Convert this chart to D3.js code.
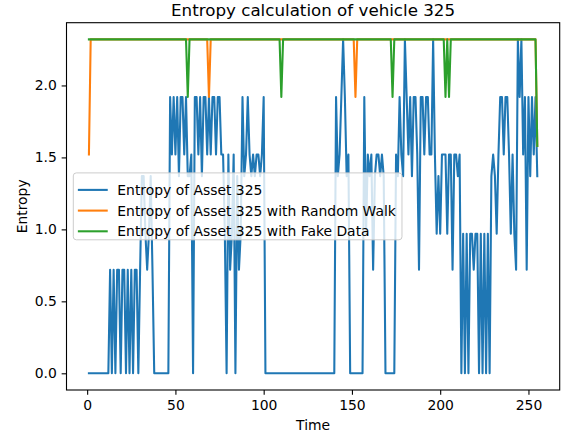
<!DOCTYPE html>
<html>
<head>
<meta charset="utf-8">
<script src="https://cdn.jsdelivr.net/npm/d3@7/dist/d3.min.js"></script>
<style>
  html, body { margin: 0; padding: 0; background: #ffffff; }
  svg { display: block; font-family: "DejaVu Sans", sans-serif; }
</style>
</head>
<body>
<svg id="chart" width="566" height="436"></svg>
<script>
// ---------------- data ----------------
const chartTitle = "Entropy calculation of vehicle 325";
const xLabel = "Time";
const yLabel = "Entropy";
const seriesNames = [
  "Entropy of Asset 325",
  "Entropy of Asset 325 with Random Walk",
  "Entropy of Asset 325 with Fake Data"
];
const seriesColors = ["#1f77b4", "#ff7f0e", "#2ca02c"];
const xTicks = [0, 50, 100, 150, 200, 250];
const yTicks = [0.0, 0.5, 1.0, 1.5, 2.0];
const timeStart = 1; // values below are for Time = 1, 2, 3, ...

const blueEntropy = [
  0,0,0,0,0,0,0,0,0,0,
  0,0,0.72,0,0.72,0,0.72,0.72,0,0.72,
  0.72,0,0.72,0,0.72,0,0.72,0.72,0,0.72,
  1.37,1.37,0.97,0.72,0.97,1.37,0.72,0,0,0,
  0,0,0,0,0,0,1.92,1.52,1.92,1.52,
  1.92,1.37,1.92,1.92,1.52,1.92,1.37,1.37,1.52,0,
  1.92,1.92,1.52,1.92,1.37,1.92,1.92,1.52,1.92,1.52,
  1.92,1.92,1.52,1.92,1.92,1.52,1.52,0.97,0,1.52,
  0.72,0.97,1.52,0,1.37,0.72,0.97,1.92,1.37,1.52,
  1.92,1.52,1.37,1.52,1.37,1.52,1.52,1.37,1.52,1.92,
  0,0,0,0,0,0,0,0,0,0,
  0,0,0,0,0,0,0,0,0,0,
  0,0,0,0,0,0,0,0,0,0,
  0,0,0,0,0,0,0,0,0,0,
  1.92,1.37,1.52,1.92,2.32,1.92,1.37,1.52,0,0,
  0,0,0,0,0,0,1.92,0.97,1.52,1.37,
  1.52,0.72,1.37,1.52,1.52,1.37,1.52,1.37,0,0,
  0,0,0,0,1.52,1.37,1.92,1.52,1.37,2.32,
  1.92,1.52,1.92,1.37,1.92,1.92,1.52,0.72,1.92,1.92,
  1.52,1.92,1.92,1.52,1.52,2.32,1.52,0.97,1.37,0.97,
  1.52,1.52,1.52,0.97,1.52,1.52,0.72,1.52,1.52,1.37,
  1.52,0,0.97,0,0.97,0,0.97,0.97,0.72,0.97,
  0.97,0,0.97,0,0.97,0,0.97,0,1.37,1.52,
  1.37,0.97,1.52,1.92,1.92,1.52,1.92,1.92,1.52,0.97,
  1.52,0.97,0.72,2.32,1.92,2.32,1.52,1.92,0.72,1.92,
  1.37,1.92,1.52,1.92,1.37
];

const orangeEntropy = [
  1.52,2.32,2.32,2.32,2.32,2.32,2.32,2.32,2.32,2.32,
  2.32,2.32,2.32,2.32,2.32,2.32,2.32,2.32,2.32,2.32,
  2.32,2.32,2.32,2.32,2.32,2.32,2.32,2.32,2.32,2.32,
  2.32,2.32,2.32,2.32,2.32,2.32,2.32,2.32,2.32,2.32,
  2.32,2.32,2.32,2.32,2.32,2.32,2.32,2.32,2.32,2.32,
  2.32,2.32,2.32,2.32,2.32,2.32,2.32,2.32,2.32,2.32,
  2.32,2.32,2.32,2.32,2.32,2.32,2.32,2.32,1.92,2.32,
  2.32,2.32,2.32,2.32,2.32,2.32,2.32,2.32,2.32,2.32,
  2.32,2.32,2.32,2.32,2.32,2.32,2.32,2.32,2.32,2.32,
  2.32,2.32,2.32,2.32,2.32,2.32,2.32,2.32,2.32,2.32,
  2.32,2.32,2.32,2.32,2.32,2.32,2.32,2.32,2.32,2.32,
  2.32,2.32,2.32,2.32,2.32,2.32,2.32,2.32,2.32,2.32,
  2.32,2.32,2.32,2.32,2.32,2.32,2.32,2.32,2.32,2.32,
  2.32,2.32,2.32,2.32,2.32,2.32,2.32,2.32,2.32,2.32,
  2.32,2.32,2.32,2.32,2.32,2.32,2.32,2.32,2.32,2.32,
  2.32,1.92,2.32,2.32,2.32,2.32,2.32,2.32,2.32,2.32,
  2.32,2.32,2.32,2.32,2.32,2.32,2.32,2.32,2.32,2.32,
  2.32,2.32,2.32,2.32,2.32,2.32,2.32,2.32,2.32,2.32,
  2.32,2.32,2.32,2.32,2.32,2.32,2.32,2.32,2.32,2.32,
  2.32,2.32,2.32,2.32,2.32,2.32,2.32,2.32,2.32,2.32,
  2.32,2.32,2.32,2.32,2.32,2.32,2.32,2.32,2.32,2.32,
  2.32,2.32,2.32,2.32,2.32,2.32,2.32,2.32,2.32,2.32,
  2.32,2.32,2.32,2.32,2.32,2.32,2.32,2.32,2.32,2.32,
  2.32,2.32,2.32,2.32,2.32,2.32,2.32,2.32,2.32,2.32,
  2.32,2.32,2.32,2.32,2.32,2.32,2.32,2.32,2.32,2.32,
  2.32,2.32,2.32,2.32,1.58
];

const greenEntropy = [
  2.32,2.32,2.32,2.32,2.32,2.32,2.32,2.32,2.32,2.32,
  2.32,2.32,2.32,2.32,2.32,2.32,2.32,2.32,2.32,2.32,
  2.32,2.32,2.32,2.32,2.32,2.32,2.32,2.32,2.32,2.32,
  2.32,2.32,2.32,2.32,2.32,2.32,2.32,2.32,2.32,2.32,
  2.32,2.32,2.32,2.32,2.32,2.32,2.32,2.32,2.32,2.32,
  2.32,2.32,2.32,2.32,2.32,2.32,1.92,2.32,2.32,2.32,
  2.32,2.32,2.32,2.32,2.32,2.32,2.32,2.32,2.32,2.32,
  2.32,2.32,2.32,2.32,2.32,2.32,2.32,2.32,2.32,2.32,
  2.32,2.32,2.32,2.32,2.32,2.32,2.32,2.32,2.32,2.32,
  2.32,2.32,2.32,2.32,2.32,2.32,2.32,2.32,2.32,2.32,
  2.32,2.32,2.32,2.32,2.32,2.32,2.32,2.32,2.32,1.92,
  2.32,2.32,2.32,2.32,2.32,2.32,2.32,2.32,2.32,2.32,
  2.32,2.32,2.32,2.32,2.32,2.32,2.32,2.32,2.32,2.32,
  2.32,2.32,2.32,2.32,2.32,2.32,2.32,2.32,2.32,2.32,
  2.32,2.32,2.32,2.32,2.32,2.32,2.32,2.32,2.32,2.32,
  2.32,2.32,2.32,2.32,2.32,2.32,2.32,2.32,2.32,2.32,
  2.32,2.32,2.32,2.32,2.32,2.32,2.32,2.32,2.32,2.32,
  2.32,2.32,1.92,2.32,2.32,2.32,2.32,2.32,2.32,2.32,
  2.32,2.32,2.32,2.32,2.32,2.32,2.32,2.32,2.32,2.32,
  2.32,2.32,2.32,2.32,2.32,2.32,2.32,2.32,2.32,2.32,
  2.32,2.32,1.92,2.32,1.92,2.32,2.32,2.32,2.32,2.32,
  2.32,2.32,2.32,2.32,2.32,2.32,2.32,2.32,2.32,2.32,
  2.32,2.32,2.32,2.32,2.32,2.32,2.32,2.32,2.32,2.32,
  2.32,2.32,2.32,2.32,2.32,2.32,2.32,2.32,2.32,2.32,
  2.32,2.32,2.32,2.32,2.32,2.32,2.32,2.32,2.32,2.32,
  2.32,2.32,2.32,2.32,1.58
];

const allSeries = [blueEntropy, orangeEntropy, greenEntropy];

// ---------------- layout ----------------
const W = 566, H = 436;
const plot = { left: 66.5, right: 559.7, top: 22.7, bottom: 390 };
const fontPx = 13.9;

const svg = d3.select("#chart");
svg.append("rect").attr("width", W).attr("height", H).attr("fill", "#ffffff");

const n = blueEntropy.length;
const xMin = timeStart, xMax = timeStart + n - 1;
const xPad = (xMax - xMin) * 0.05;
const x = d3.scaleLinear().domain([xMin - xPad, xMax + xPad]).range([plot.left, plot.right]);

const yMinD = 0, yMaxD = d3.max(allSeries.flat());
const yPad = (yMaxD - yMinD) * 0.05;
const y = d3.scaleLinear().domain([yMinD - yPad, yMaxD + yPad]).range([plot.bottom, plot.top]);

// clip
svg.append("defs").append("clipPath").attr("id", "clip")
  .append("rect")
  .attr("x", plot.left).attr("y", plot.top)
  .attr("width", plot.right - plot.left).attr("height", plot.bottom - plot.top);

// lines
const line = d3.line()
  .x((d, i) => x(timeStart + i))
  .y(d => y(d));

const gLines = svg.append("g").attr("clip-path", "url(#clip)");
allSeries.forEach((s, k) => {
  gLines.append("path")
    .datum(s)
    .attr("d", line)
    .attr("fill", "none")
    .attr("stroke", seriesColors[k])
    .attr("stroke-width", 2.08)
    .attr("stroke-linejoin", "round")
    .attr("stroke-linecap", "square");
});

// axes
const tickLen = 4.86, tickPad = 4.86;
const xAxis = d3.axisBottom(x).tickValues(xTicks).tickFormat(d3.format("d"))
  .tickSizeInner(tickLen).tickSizeOuter(0).tickPadding(tickPad);
const yAxis = d3.axisLeft(y).tickValues(yTicks).tickFormat(d3.format(".1f"))
  .tickSizeInner(tickLen).tickSizeOuter(0).tickPadding(tickPad);

const gx = svg.append("g").attr("transform", `translate(0,${plot.bottom})`).call(xAxis);
const gy = svg.append("g").attr("transform", `translate(${plot.left},0)`).call(yAxis);
[gx, gy].forEach(g => {
  g.select(".domain").remove();
  g.selectAll(".tick line").attr("stroke", "#000").attr("stroke-width", 1.1);
  g.selectAll(".tick text").attr("fill", "#000")
    .style("font-family", "'DejaVu Sans', sans-serif")
    .style("font-size", fontPx + "px");
});

// spines
svg.append("rect")
  .attr("x", plot.left).attr("y", plot.top)
  .attr("width", plot.right - plot.left).attr("height", plot.bottom - plot.top)
  .attr("fill", "none").attr("stroke", "#000").attr("stroke-width", 1.1);

// title & labels
svg.append("text")
  .attr("x", (plot.left + plot.right) / 2).attr("y", 16)
  .attr("text-anchor", "middle")
  .style("font-size", "16.7px").attr("fill", "#000")
  .text(chartTitle);

svg.append("text")
  .attr("x", (plot.left + plot.right) / 2).attr("y", 430)
  .attr("text-anchor", "middle")
  .style("font-size", fontPx + "px").attr("fill", "#000")
  .text(xLabel);

svg.append("text")
  .attr("transform", `translate(27,${(plot.top + plot.bottom) / 2}) rotate(-90)`)
  .attr("text-anchor", "middle")
  .style("font-size", fontPx + "px").attr("fill", "#000")
  .text(yLabel);

// legend
const lg = svg.append("g");
const lgLeft = 73.3;
const rowPitch = 20.7;
const pad = 5.6;
const handleLen = 27.8;
const textGap = 11.1;
const lgRect = lg.append("rect");
const texts = [];
seriesNames.forEach((name, k) => {
  texts.push(lg.append("text")
    .attr("x", lgLeft + pad + handleLen + textGap - 0.5)
    .attr("y", 0)
    .style("font-size", fontPx + "px").attr("fill", "#000")
    .text(name));
});
const maxW = d3.max(texts, t => t.node().getComputedTextLength());
const lgW = pad + handleLen + textGap + maxW + pad;
const lgH = pad * 2 + rowPitch * 3 - 6.9 + 0.5;
const lgTop = (plot.top + plot.bottom) / 2 - lgH / 2;
lgRect.attr("x", lgLeft).attr("y", lgTop)
  .attr("width", lgW).attr("height", lgH)
  .attr("rx", 3).attr("ry", 3)
  .attr("fill", "#ffffff").attr("fill-opacity", 0.8)
  .attr("stroke", "#cccccc").attr("stroke-width", 1);
seriesNames.forEach((name, k) => {
  const cy = lgTop + pad + 6.9 + k * rowPitch + 4.5;
  lg.append("line")
    .attr("x1", lgLeft + pad).attr("x2", lgLeft + pad + handleLen)
    .attr("y1", cy).attr("y2", cy)
    .attr("stroke", seriesColors[k]).attr("stroke-width", 2.08)
    .attr("stroke-linecap", "square");
  texts[k].attr("y", cy + 5);
});
</script>
</body>
</html>
